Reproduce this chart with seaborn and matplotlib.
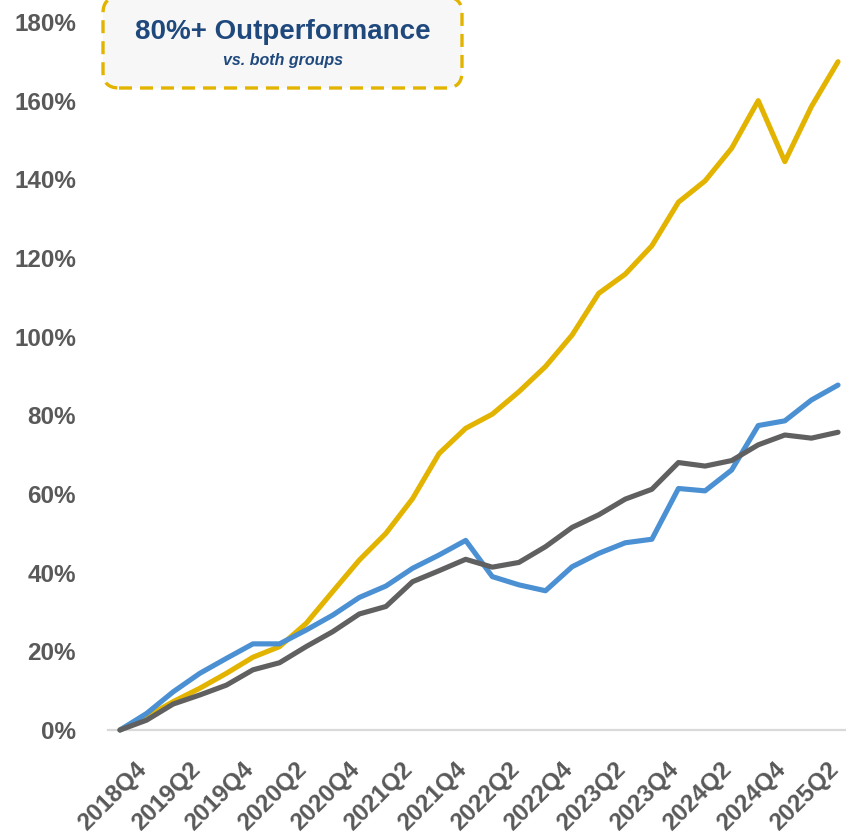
import matplotlib
matplotlib.use("Agg")
import matplotlib.pyplot as plt
import matplotlib.transforms as mtransforms
from matplotlib.patches import FancyBboxPatch
import numpy as np
import pandas as pd
import seaborn as sns

# ---------------- data ----------------
quarters = [
    "2018Q3", "2018Q4",
    "2019Q1", "2019Q2", "2019Q3", "2019Q4",
    "2020Q1", "2020Q2", "2020Q3", "2020Q4",
    "2021Q1", "2021Q2", "2021Q3", "2021Q4",
    "2022Q1", "2022Q2", "2022Q3", "2022Q4",
    "2023Q1", "2023Q2", "2023Q3", "2023Q4",
    "2024Q1", "2024Q2", "2024Q3", "2024Q4",
    "2025Q1", "2025Q2",
]
tick_labels = ["2018Q4", "2019Q2", "2019Q4", "2020Q2", "2020Q4", "2021Q2", "2021Q4",
               "2022Q2", "2022Q4", "2023Q2", "2023Q4", "2024Q2", "2024Q4", "2025Q2"]

series_names = ["Portfolio", "Peer group A", "Peer group B"]
portfolio = [0, 3.4, 7.2, 10.6, 14.4, 18.5, 21.2, 27.1, 35.2, 43.2, 50.0, 58.8, 70.3, 76.7,
             80.3, 86.0, 92.4, 100.4, 111.0, 115.9, 123.1, 134.2, 139.6, 147.9, 160.0,
             144.5, 158.5, 169.9]
peer_a = [0, 4.2, 9.7, 14.4, 18.2, 21.9, 21.9, 25.4, 29.2, 33.7, 36.6, 41.1, 44.5, 48.2,
          39.0, 36.9, 35.4, 41.5, 44.9, 47.6, 48.5, 61.4, 60.8, 66.1, 77.4, 78.6, 83.9, 87.7]
peer_b = [0, 2.5, 6.6, 8.9, 11.4, 15.3, 17.1, 21.2, 25.0, 29.5, 31.4, 37.7, 40.5, 43.4,
          41.4, 42.6, 46.6, 51.5, 54.7, 58.7, 61.2, 68.0, 67.1, 68.5, 72.5, 75.0, 74.2, 75.7]
y_ticks = [0, 20, 40, 60, 80, 100, 120, 140, 160, 180]

colors = {"Portfolio": "#E2B400", "Peer group A": "#4A90D2", "Peer group B": "#606060"}

# ---------------- build frame ----------------
idx = np.arange(len(quarters))
df = pd.concat([
    pd.DataFrame({"idx": idx, "quarter": quarters, "value": vals, "series": name})
    for name, vals in zip(series_names, [portfolio, peer_a, peer_b])
], ignore_index=True)

sns.set_style("white")
plt.rcParams["font.family"] = ["Liberation Sans", "DejaVu Sans"]

W, H = 846, 834
fig = plt.figure(figsize=(W / 100, H / 100), dpi=100)
ax = fig.add_axes([108 / W, 104 / H, (846 - 108) / W, (730 - 22) / H])

sns.lineplot(data=df, x="idx", y="value", hue="series", hue_order=series_names,
             palette=colors, linewidth=3.7, legend=False, ax=ax, sort=False)
for ln in ax.get_lines():
    ln.set_solid_capstyle("round")
    ln.set_solid_joinstyle("round")
    ln.set_clip_on(False)

ax.set_xlim(-0.45, 27.3)
ax.set_ylim(0, 180)
ax.set_xlabel("")
ax.set_ylabel("")

for s in ["top", "right", "left"]:
    ax.spines[s].set_visible(False)
ax.spines["bottom"].set_color("#D9D9D9")
ax.spines["bottom"].set_linewidth(1.6)
ax.spines["bottom"].set_zorder(0)

ax.set_yticks(y_ticks)
ax.set_yticklabels([f"{v}%" for v in y_ticks], fontsize=17.5, fontweight="bold", color="#595959")
ax.set_xticks([quarters.index(t) for t in tick_labels])
ax.set_xticklabels(tick_labels, fontsize=17.5, fontweight="bold", color="#595959",
                   rotation=45, ha="right", va="top")
ax.tick_params(axis="y", length=0, pad=23)
ax.tick_params(axis="x", length=0, pad=20)
off = mtransforms.ScaledTranslation(5 / 100, 0, fig.dpi_scale_trans)
for lbl in ax.get_xticklabels():
    lbl.set_transform(lbl.get_transform() + off)
ax.grid(False)

# ---------------- callout box ----------------
box = FancyBboxPatch((103 / 100, (H - 88) / 100), 359 / 100, 91 / 100,
                     boxstyle="round,pad=0,rounding_size=0.16",
                     transform=fig.dpi_scale_trans, facecolor="#F7F7F7",
                     edgecolor="#E2B400", linewidth=2.4, linestyle=(0, (3.9, 2.4)))
fig.add_artist(box)
fig.text(283 / W, (H - 39) / H, "80%+ Outperformance", ha="center", va="baseline",
         fontsize=20, fontweight="bold", color="#1F497D")
fig.text(283 / W, (H - 65) / H, "vs. both groups", ha="center", va="baseline",
         fontsize=11.5, fontweight="bold", fontstyle="italic", color="#1F497D")

fig.savefig("out.png", dpi=100)
